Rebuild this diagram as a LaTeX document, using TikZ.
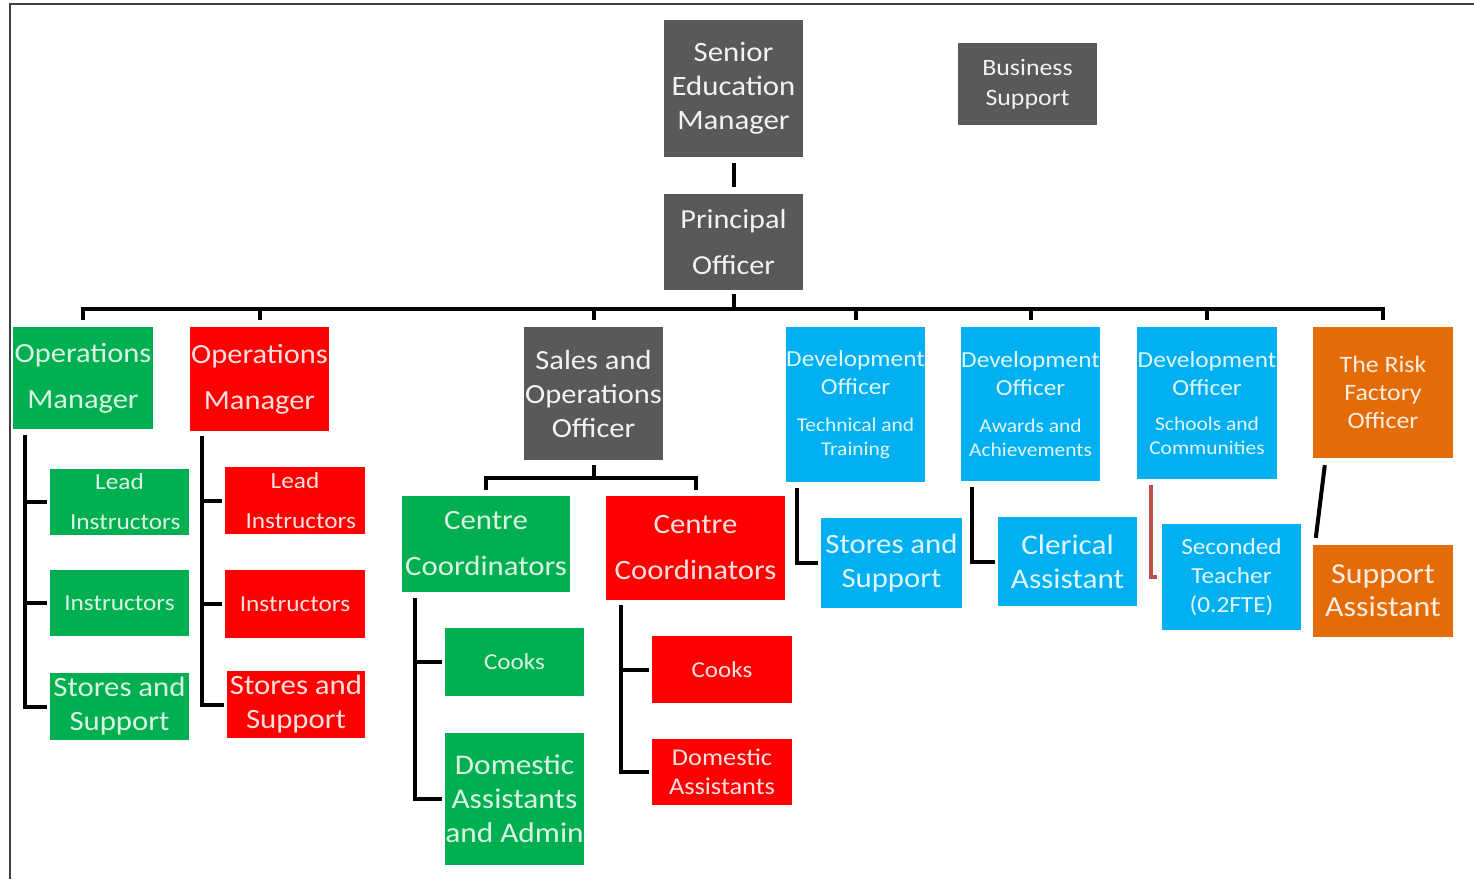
\documentclass[tikz,border=0pt]{standalone}
\usepackage{fontspec}
\setmainfont{Carlito}[FakeStretch=1.1]
\definecolor{cgray}{HTML}{595959}
\definecolor{cgreen}{HTML}{00B050}
\definecolor{cred}{HTML}{FF0000}
\definecolor{cblue}{HTML}{00B0F0}
\definecolor{corange}{HTML}{E36C09}
\definecolor{clink}{HTML}{C0504D}
\newcommand{\fs}[2]{\fontsize{#1}{#2}\selectfont}
\tikzset{
  box/.style={rectangle, inner sep=0pt, align=center, draw=none},
  graybox/.style={box, fill=cgray, text=white!92!cgray},
  greenbox/.style={box, fill=cgreen, text=white!85!cgreen},
  redbox/.style={box, fill=cred, text=white!88!cred},
  bluebox/.style={box, fill=cblue, text=white!88!cblue},
  orangebox/.style={box, fill=corange, text=white!88!corange},
  link/.style={line width=4pt, black},
  frameline/.style={line width=2pt, black!75},
}
\begin{document}
\begin{tikzpicture}[x=1pt, y=-1pt]
\useasboundingbox (0,0) rectangle (1474,879);
\fill[white] (0,0) rectangle (1474,879);
% page frame
\draw[frameline] (10,879) -- (10,4) -- (1474,4);

% top of the hierarchy
\node[graybox, minimum width=139pt, minimum height=137pt, font=\fs{28}{34}] (sem) at (733.5,88.5) {Senior\\Education\\Manager};
\node[graybox, minimum width=139pt, minimum height=82pt, font=\fs{23.5}{30}] (bus) at (1027.5,84) {Business\\Support};
\node[graybox, minimum width=139pt, minimum height=96pt, font=\fs{27.5}{46}] (po) at (733.5,242) {Principal\\Officer};

% second level
\node[greenbox, minimum width=140pt, minimum height=102pt, font=\fs{27.7}{46}] (omg) at (83,378) {Operations\\Manager};
\node[redbox, minimum width=139pt, minimum height=104pt, font=\fs{27.7}{46}] (omr) at (259.5,379) {Operations\\Manager};
\node[graybox, minimum width=139pt, minimum height=133pt, font=\fs{27.7}{34}] (soo) at (593.5,393.5) {Sales and\\Operations\\Officer};
\node[bluebox, minimum width=139pt, minimum height=155pt, font=\fs{23}{24}] (d1) at (855.5,404.5)
  {Development\\[4pt]Officer\\[13pt]\fs{19.5}{24}Technical and\\\fs{19.5}{24}Training};
\node[bluebox, minimum width=139pt, minimum height=154pt, font=\fs{23}{24}] (d2) at (1030.5,404)
  {Development\\[4pt]Officer\\[13pt]\fs{19.5}{24}Awards and\\\fs{19.5}{24}Achievements};
\node[bluebox, minimum width=140pt, minimum height=152pt, font=\fs{23}{24}] (d3) at (1207,403)
  {Development\\[4pt]Officer\\[11pt]\fs{19.5}{24}Schools and\\\fs{19.5}{24}Communities};
\node[orangebox, minimum width=140pt, minimum height=131pt, font=\fs{23.5}{28}] (rf) at (1383,392.5) {The Risk\\Factory\\Officer};

% operations teams
\node[greenbox, minimum width=139pt, minimum height=66pt, font=\fs{23}{40}] (gli) at (119.5,502) {Lead\\\ \ Instructors};
\node[greenbox, minimum width=139pt, minimum height=66pt, font=\fs{23}{26}] (gin) at (119.5,603) {Instructors};
\node[greenbox, minimum width=139pt, minimum height=67pt, font=\fs{28}{34}] (gss) at (119.5,706.5) {Stores and\\Support};
\node[redbox, minimum width=140pt, minimum height=67pt, font=\fs{23}{40}] (rli) at (295,500.5) {Lead\\\ \ Instructors};
\node[redbox, minimum width=140pt, minimum height=68pt, font=\fs{23}{26}] (rin) at (295,604) {Instructors};
\node[redbox, minimum width=138pt, minimum height=67pt, font=\fs{28}{34}] (rss) at (296,704.5) {Stores and\\Support};

% centre teams
\node[greenbox, minimum width=168pt, minimum height=96pt, font=\fs{28}{46}] (gcc) at (486,544) {Centre\\Coordinators};
\node[redbox, minimum width=179pt, minimum height=104pt, font=\fs{28}{46}] (rcc) at (695.5,548) {Centre\\Coordinators};
\node[greenbox, minimum width=139pt, minimum height=68pt, font=\fs{22.8}{26}] (gck) at (514.5,662) {Cooks};
\node[greenbox, minimum width=139pt, minimum height=132pt, font=\fs{28.5}{34}] (gda) at (514.5,799) {Domestic\\Assistants\\and Admin};
\node[redbox, minimum width=140pt, minimum height=67pt, font=\fs{22.8}{26}] (rck) at (722,669.5) {Cooks};
\node[redbox, minimum width=140pt, minimum height=66pt, font=\fs{24}{29}] (rda) at (722,772) {Domestic\\Assistants};

% development teams
\node[bluebox, minimum width=141pt, minimum height=90pt, font=\fs{28}{34}] (bss) at (891.5,563) {Stores and\\Support};
\node[bluebox, minimum width=139pt, minimum height=89pt, font=\fs{28.4}{34}] (bca) at (1067.5,561.5) {Clerical\\Assistant};
\node[bluebox, minimum width=139pt, minimum height=106pt, font=\fs{23}{29}] (bst) at (1231.5,577) {Seconded\\Teacher\\(0.2FTE)};
\node[orangebox, minimum width=140pt, minimum height=92pt, font=\fs{29}{33}] (osa) at (1383,591) {Support\\Assistant};

% connectors: top
\draw[link] ([yshift=-6pt]sem.south) -- ([yshift=7pt]po.north);
\coordinate (busline) at (733.5,309);
\draw[link] ([yshift=-4pt]po.south) -- (busline);
\draw[link] ([yshift=7pt]omg.north) |- (rf.north |- busline) -- ([yshift=7pt]rf.north);
\foreach \n in {omr,soo,d1,d2,d3}
  \draw[link] (\n.north |- busline) -- ([yshift=7pt]\n.north);

% connectors: green operations
\coordinate (gt) at ([xshift=12pt,yshift=-6pt]omg.south west);
\draw[link] (gt) |- ([xshift=-3pt]gss.west);
\draw[link] (gt |- gli.west) -- ([xshift=-3pt]gli.west);
\draw[link] (gt |- gin.west) -- ([xshift=-3pt]gin.west);

% connectors: red operations
\coordinate (rt) at ([xshift=12pt,yshift=-5pt]omr.south west);
\draw[link] (rt) |- ([xshift=-3pt]rss.west);
\draw[link] (rt |- rli.west) -- ([xshift=-3pt]rli.west);
\draw[link] (rt |- rin.west) -- ([xshift=-3pt]rin.west);

% connectors: sales and centres
\coordinate (ccbus) at (593.5,478);
\draw[link] ([yshift=-5pt]soo.south) -- (ccbus);
\draw[link] ([yshift=6pt]gcc.north) |- (rcc.north |- ccbus) -- ([yshift=6pt]rcc.north);
\coordinate (gct) at ([xshift=13pt,yshift=-6pt]gcc.south west);
\draw[link] (gct) |- ([xshift=-3pt]gda.west);
\draw[link] (gct |- gck.west) -- ([xshift=-3pt]gck.west);
\coordinate (rct) at ([xshift=15pt,yshift=-5pt]rcc.south west);
\draw[link] (rct) |- ([xshift=-3pt]rda.west);
\draw[link] (rct |- rck.west) -- ([xshift=-3pt]rck.west);

% connectors: development and risk factory
\draw[link] ([xshift=11pt,yshift=-6pt]d1.south west) |- ([xshift=-3pt]bss.west);
\draw[link] ([xshift=11pt,yshift=-6pt]d2.south west) |- ([xshift=-3pt]bca.west);
\draw[link, clink] ([xshift=14pt,yshift=-6pt]d3.south west) |- ([xshift=-5pt]bst.west);
\draw[link] ([xshift=12pt,yshift=-7pt]rf.south west) -- ([xshift=3pt,yshift=7pt]osa.north west);
\end{tikzpicture}
\end{document}
